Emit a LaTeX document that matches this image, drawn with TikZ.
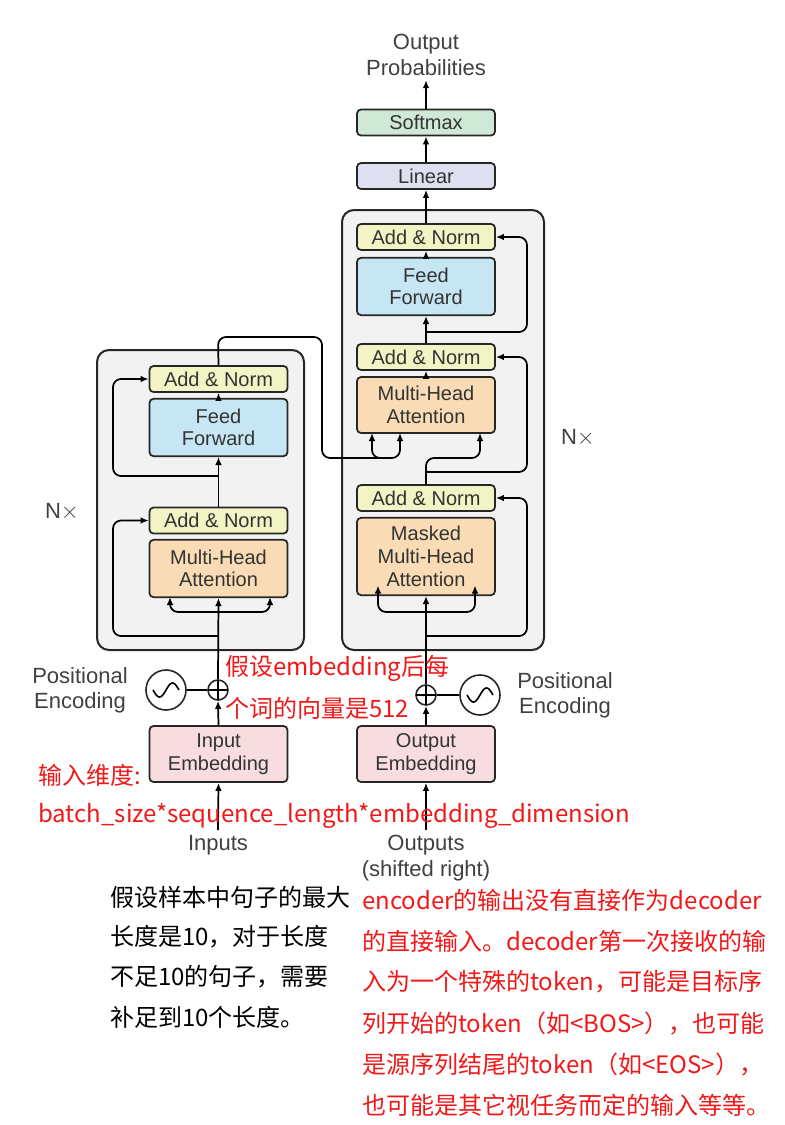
\documentclass[tikz,border=0pt]{standalone}
\usepackage{fontspec}
\setmainfont{Liberation Sans}
\newfontfamily\cjk{Noto Sans CJK SC}
\usetikzlibrary{arrows.meta}
\definecolor{anc}{HTML}{F2F4C6}
\definecolor{ffc}{HTML}{C6E6F4}
\definecolor{mhc}{HTML}{F9DCB6}
\definecolor{emc}{HTML}{F8DDE0}
\definecolor{smc}{HTML}{CFE9D6}
\definecolor{lic}{HTML}{DEE0F2}
\definecolor{redt}{HTML}{F01818}
\begin{document}
\begin{tikzpicture}[x=0.75pt,y=-0.75pt,
 blk/.style={draw=black!85,line width=1.3pt,rounded corners=3pt,minimum width=103.5pt,align=center,font=\fontsize{15}{17}\selectfont,text=black!80,inner sep=0pt},
 an/.style={blk,fill=anc,minimum height=19.5pt},
 arr/.style={line width=1.3pt,-{Latex[length=6pt,width=5pt]},rounded corners=6pt},
 ln/.style={line width=1.3pt,rounded corners=6pt},
 lab/.style={font=\fontsize{16.5}{19}\selectfont,text=black!75,align=center},
 red/.style={font=\cjk\fontsize{18}{20}\selectfont,text=redt,anchor=west,inner sep=0pt},
 blk2/.style={font=\cjk\fontsize{18}{20}\selectfont,text=black,anchor=west,inner sep=0pt}]
\useasboundingbox (0,0) rectangle (785,1125);
% blocks
\draw[fill=black!5,draw=black!85,line width=1.5pt,rounded corners=9pt] (97,350) rectangle (304,650);
\draw[fill=black!5,draw=black!85,line width=1.5pt,rounded corners=9pt] (342,210) rectangle (544,650);
% encoder nodes
\node[an] (ean2) at (218.5,379) {Add \& Norm};
\node[blk,fill=ffc,minimum height=43pt] (eff) at (218.5,427.5) {Feed\\Forward};
\node[an] (ean1) at (218.5,520.5) {Add \& Norm};
\node[blk,fill=mhc,minimum height=43pt] (emh) at (218.5,568.5) {Multi-Head\\Attention};
\node[blk,fill=emc,minimum height=42pt] (eem) at (218.5,754) {Input\\Embedding};
\node[draw=black!85,line width=1.2pt,circle,minimum size=15pt,inner sep=0pt] (epl) at (218,690) {};
\draw[line width=1.2pt] (208,690)--(228,690) (218,680)--(218,700);
\node[draw=black!85,line width=1.2pt,circle,minimum size=30pt,inner sep=0pt] (esn) at (166,690) {};
\draw[line width=1.2pt,domain=-13:13,samples=40] plot (166+\x,{690-7*sin(\x*180/13)});
\node[lab] (epe) at (80,690) {Positional\\Encoding};
\node[lab] (enx) at (62,512) {N$\times$};
\node[lab] (ein) at (218,845) {Inputs};
\coordinate (einb) at (218,830);
% decoder nodes
\node[blk,fill=smc,minimum height=19.5pt] (dsm) at (426,122.5) {Softmax};
\node[blk,fill=lic,minimum height=19.5pt] (dli) at (426,176) {Linear};
\node[an] (dan3) at (426,237) {Add \& Norm};
\node[blk,fill=ffc,minimum height=43pt] (dff) at (426,286.5) {Feed\\Forward};
\node[an] (dan2) at (426,357) {Add \& Norm};
\node[blk,fill=mhc,minimum height=42pt] (dmh) at (426,405) {Multi-Head\\Attention};
\node[an] (dan1) at (426,498) {Add \& Norm};
\node[blk,fill=mhc,minimum height=58pt] (dmm) at (426,556.5) {Masked\\Multi-Head\\Attention};
\node[blk,fill=emc,minimum height=42pt] (dem) at (426,754) {Output\\Embedding};
\node[draw=black!85,line width=1.2pt,circle,minimum size=15pt,inner sep=0pt] (dpl) at (426,695) {};
\draw[line width=1.2pt] (416,695)--(436,695) (426,685)--(426,705);
\node[draw=black!85,line width=1.2pt,circle,minimum size=30pt,inner sep=0pt] (dsn) at (480,695) {};
\draw[line width=1.2pt,domain=-13:13,samples=40] plot (480+\x,{695-7*sin(\x*180/13)});
\node[lab] (dpe) at (565,695) {Positional\\Encoding};
\node[lab] (dnx) at (578,438) {N$\times$};
\node[lab] (dop) at (426,55) {Output\\Probabilities};
\node[lab] (dou) at (426,858) {Outputs\\(shifted right)};
\coordinate (doub) at (426,830);
% encoder connectors
\draw[arr] (einb)--(eem.south);
\draw[arr] (eem.north)--(epl.south);
\draw[ln] (esn.east)--(epl.west);
\draw[arr] (epl.north)--(emh.south);
\draw[arr] (218,612)--(170,612)--(170,597);
\draw[arr] (218,612)--(270,612)--(270,597);
\draw[arr] (218,636)--(113,636)--(113,520.5)--(ean1.west);
\draw[arr] (ean1.north)--(eff.south);
\draw[arr] (218,476)--(113,476)--(113,379)--(ean2.west);
\draw[arr] (eff.north)--(ean2.south);
\draw[ln] (ean2.north)--(218,337)--(322,337)--(322,458)--(390,458);
\draw[arr] (390,458)--(372,458)--(372,433);
\draw[arr] (372,458)--(400,458)--(400,433);
% decoder connectors
\draw[arr] (doub)--(dem.south);
\draw[arr] (dem.north)--(dpl.south);
\draw[ln] (dsn.west)--(dpl.east);
\draw[arr] (dpl.north)--(dmm.south);
\draw[arr] (426,612)--(378,612)--(378,585.5);
\draw[arr] (426,612)--(475,612)--(475,585.5);
\draw[arr] (426,636)--(527,636)--(527,498)--(dan1.east);
\draw[arr] (dan1.north)--(426,458)--(480,458)--(480,433);
\draw[arr] (426,472)--(527,472)--(527,357)--(dan2.east);
\draw[arr] (dmh.north)--(dan2.south);
\draw[arr] (dan2.north)--(dff.south);
\draw[arr] (426,332)--(527,332)--(527,237)--(dan3.east);
\draw[arr] (dff.north)--(dan3.south);
\draw[arr] (dan3.north)--(dli.south);
\draw[arr] (dli.north)--(dsm.south);
\draw[arr] (dsm.north)--(dop.south);
% annotations
\node[red] (r1) at (225,668) {假设embedding后每};
\node[red] (r2) at (225,708) {个词的向量是512};
\node[red] (r3) at (38,775) {输入维度:};
\node[red] (r4) at (38,816) {batch\_size*sequence\_length*embedding\_dimension};
\node[blk2] (b1) at (110,897) {假设样本中句子的最大};
\node[blk2] (b2) at (110,937) {长度是10，对于长度};
\node[blk2] (b3) at (110,977) {不足10的句子，需要};
\node[blk2] (b4) at (110,1017) {补足到10个长度。};
\node[red] (c1) at (362,900) {encoder的输出没有直接作为decoder};
\node[red] (c2) at (362,941) {的直接输入。decoder第一次接收的输};
\node[red] (c3) at (362,982) {入为一个特殊的token，可能是目标序};
\node[red] (c4) at (362,1023) {列开始的token（如<BOS>），也可能};
\node[red] (c5) at (362,1064) {是源序列结尾的token（如<EOS>），};
\node[red] (c6) at (362,1105) {也可能是其它视任务而定的输入等等。};
\end{tikzpicture}
\end{document}
